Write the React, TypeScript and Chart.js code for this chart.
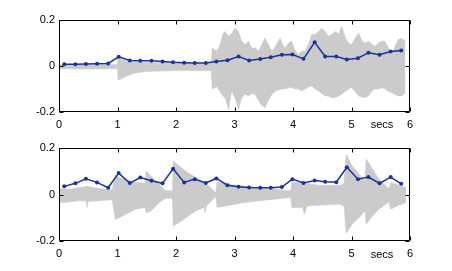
import React, { useEffect, useRef } from "react";
import { Chart, registerables } from "chart.js";

Chart.register(...registerables);

// Frame times (s) of the blue feature track
const frameTimes = [0.09, 0.28, 0.46, 0.65, 0.84, 1.02, 1.21, 1.39, 1.58, 1.77, 1.95, 2.14, 2.32, 2.51, 2.69, 2.88, 3.07, 3.25, 3.44, 3.62, 3.81, 3.99, 4.18, 4.37, 4.55, 4.74, 4.92, 5.11, 5.29, 5.48, 5.67, 5.85];

const topFeature = [0.008, 0.008, 0.009, 0.010, 0.011, 0.040, 0.024, 0.023, 0.023, 0.020, 0.016, 0.014, 0.013, 0.013, 0.020, 0.025, 0.041, 0.024, 0.030, 0.038, 0.049, 0.050, 0.031, 0.103, 0.041, 0.041, 0.028, 0.034, 0.058, 0.049, 0.063, 0.067];
const bottomFeature = [0.035, 0.048, 0.068, 0.052, 0.029, 0.092, 0.049, 0.073, 0.059, 0.048, 0.111, 0.052, 0.066, 0.050, 0.069, 0.040, 0.033, 0.030, 0.029, 0.029, 0.032, 0.066, 0.050, 0.060, 0.055, 0.053, 0.117, 0.066, 0.075, 0.048, 0.075, 0.046];

// Waveform envelopes (top signal)
const topWaveTimes = [0, 0.5, 1.0, 1.01, 1.05, 1.15, 1.3, 1.5, 2.0, 2.3, 2.6, 2.62, 2.7, 2.75, 2.8, 2.84, 2.9, 2.95, 3.01, 3.07, 3.12, 3.18, 3.24, 3.3, 3.35, 3.41, 3.46, 3.52, 3.58, 3.64, 3.7, 3.78, 3.83, 3.87, 3.92, 3.98, 4.03, 4.09, 4.15, 4.21, 4.27, 4.32, 4.38, 4.44, 4.49, 4.55, 4.6, 4.66, 4.72, 4.78, 4.83, 4.9, 4.95, 5.0, 5.06, 5.12, 5.18, 5.23, 5.29, 5.35, 5.4, 5.46, 5.52, 5.57, 5.63, 5.69, 5.75, 5.8, 5.86, 5.92];
const topWaveUpper = [0.006, 0.005, 0.006, 0.034, 0.03, 0.022, 0.018, 0.015, 0.014, 0.013, 0.013, 0.077, 0.065, 0.09, 0.14, 0.15, 0.13, 0.14, 0.165, 0.15, 0.11, 0.093, 0.108, 0.075, 0.08, 0.064, 0.09, 0.122, 0.095, 0.064, 0.085, 0.122, 0.09, 0.079, 0.1, 0.108, 0.07, 0.05, 0.065, 0.064, 0.1, 0.137, 0.137, 0.15, 0.165, 0.15, 0.13, 0.137, 0.15, 0.14, 0.173, 0.12, 0.1, 0.093, 0.12, 0.144, 0.11, 0.1, 0.108, 0.095, 0.086, 0.1, 0.108, 0.108, 0.08, 0.05, 0.09, 0.115, 0.12, 0.108];
const topWaveLower = [-0.012, -0.013, -0.012, -0.06, -0.058, -0.045, -0.03, -0.024, -0.02, -0.02, -0.02, -0.1, -0.09, -0.11, -0.13, -0.14, -0.19, -0.109, -0.14, -0.19, -0.14, -0.123, -0.13, -0.12, -0.123, -0.15, -0.17, -0.181, -0.15, -0.123, -0.11, -0.102, -0.1, -0.1, -0.095, -0.094, -0.1, -0.1, -0.109, -0.1, -0.09, -0.087, -0.1, -0.11, -0.12, -0.13, -0.13, -0.138, -0.138, -0.13, -0.123, -0.11, -0.1, -0.094, -0.11, -0.13, -0.135, -0.138, -0.13, -0.109, -0.1, -0.1, -0.094, -0.1, -0.11, -0.116, -0.125, -0.13, -0.13, -0.116];

// Waveform envelopes (bottom signal)
const bottomWaveTimes = [0, 0.17, 0.34, 0.46, 0.48, 0.5, 0.68, 0.91, 0.96, 1.03, 1.14, 1.31, 1.47, 1.49, 1.57, 1.71, 1.82, 1.94, 1.95, 2.05, 2.17, 2.34, 2.48, 2.5, 2.52, 2.68, 2.7, 2.85, 3.13, 3.42, 3.7, 3.96, 3.98, 4.16, 4.2, 4.24, 4.44, 4.79, 4.87, 4.91, 5.01, 5.13, 5.23, 5.25, 5.36, 5.47, 5.64, 5.67, 5.81, 5.93];
const bottomWaveUpper = [0.026, 0.023, 0.03, 0.034, 0.037, 0.034, 0.026, 0.02, 0.088, 0.073, 0.066, 0.052, 0.05, 0.102, 0.08, 0.045, 0.016, 0.016, 0.145, 0.124, 0.1, 0.073, 0.05, 0.048, 0.045, 0.009, 0.055, 0.045, 0.037, 0.03, 0.023, 0.016, 0.055, 0.049, 0.049, 0.047, 0.04, 0.04, 0.045, 0.174, 0.124, 0.088, 0.059, 0.153, 0.11, 0.066, 0.026, 0.052, 0.04, 0.03];
const bottomWaveLower = [-0.035, -0.032, -0.027, -0.027, -0.056, -0.03, -0.027, -0.023, -0.107, -0.1, -0.085, -0.063, -0.056, -0.078, -0.072, -0.035, -0.017, -0.017, -0.135, -0.121, -0.1, -0.07, -0.056, -0.078, -0.049, -0.009, -0.056, -0.049, -0.037, -0.027, -0.02, -0.013, -0.056, -0.056, -0.085, -0.049, -0.046, -0.042, -0.049, -0.167, -0.128, -0.1, -0.07, -0.128, -0.092, -0.063, -0.032, -0.063, -0.046, -0.035];

const xTickValues = [0, 1, 2, 3, 4, 5, 6];
const yTickValues = [-0.2, 0, 0.2];
const xAxisLabel = "secs";

const FONT = "'Liberation Sans', Arial, Helvetica, sans-serif";
const BLUE = "#1c3494";
const GRAY = "#cbcbcb";

const zip = (xs: number[], ys: number[]) => xs.map((x, i) => ({ x, y: ys[i] }));

const boxPlugin = {
  id: "matlabBox",
  afterDraw(chart: any, _args: any, opts: any) {
    const { ctx, chartArea } = chart;
    const { left, right, top, bottom } = chartArea;
    const xs = chart.scales.x;
    const ys = chart.scales.y;
    ctx.save();
    ctx.strokeStyle = "#000";
    ctx.lineWidth = 1;
    ctx.beginPath();
    const L = Math.round(left) + 0.5, R = Math.round(right) - 0.5;
    const T = Math.round(top) + 0.5, B = Math.round(bottom) - 0.5;
    ctx.rect(L, T, R - L, B - T);
    const tl = 4;
    xTickValues.forEach((v) => {
      const px = Math.round(xs.getPixelForValue(v)) + 0.5;
      ctx.moveTo(px, B); ctx.lineTo(px, B - tl);
      ctx.moveTo(px, T); ctx.lineTo(px, T + tl);
    });
    yTickValues.forEach((v) => {
      const py = Math.round(ys.getPixelForValue(v)) + 0.5;
      ctx.moveTo(L, py); ctx.lineTo(L + tl, py);
      ctx.moveTo(R, py); ctx.lineTo(R - tl, py);
    });
    ctx.stroke();
    ctx.fillStyle = "#000";
    ctx.font = `11px ${FONT}`;
    ctx.textAlign = "center";
    ctx.textBaseline = "middle";
    ctx.fillText(xAxisLabel, 382, bottom + (opts.labelDy || 13));
    ctx.restore();
  },
};

function Panel(props: { top: number; height: number; padTop: number; xHeight: number; labelDy: number; times: number[]; upper: number[]; lower: number[]; feature: number[] }) {
  const ref = useRef<HTMLCanvasElement | null>(null);
  useEffect(() => {
    if (!ref.current) return;
    const chart = new Chart(ref.current, {
      type: "line",
      data: {
        datasets: [
          {
            data: zip(frameTimes, props.feature),
            borderColor: BLUE,
            backgroundColor: BLUE,
            borderWidth: 1.5,
            pointRadius: 2,
            pointBorderWidth: 0,
            pointStyle: "circle",
            tension: 0,
            fill: false,
            order: 0,
          },
          {
            data: zip(props.times, props.upper),
            borderColor: GRAY,
            backgroundColor: GRAY,
            borderWidth: 0.5,
            pointRadius: 0,
            tension: 0,
            fill: "+1",
            order: 1,
          },
          {
            data: zip(props.times, props.lower),
            borderColor: GRAY,
            backgroundColor: GRAY,
            borderWidth: 0.5,
            pointRadius: 0,
            tension: 0,
            fill: false,
            order: 2,
          },
        ],
      },
      options: {
        animation: false,
        responsive: false,
        maintainAspectRatio: false,
        layout: { padding: { top: props.padTop, right: 42, left: 0, bottom: 0 } },
        plugins: {
          legend: { display: false },
          tooltip: { enabled: false },
          matlabBox: { labelDy: props.labelDy },
        } as any,
        scales: {
          x: {
            type: "linear",
            min: 0,
            max: 6,
            grid: { display: false, drawTicks: false },
            border: { display: false },
            afterBuildTicks: (s: any) => { s.ticks = xTickValues.map((v) => ({ value: v })); },
            afterFit: (s: any) => { s.height = props.xHeight; },
            ticks: {
              color: "#000",
              font: { family: FONT, size: 11 },
              padding: 6,
              maxRotation: 0,
              autoSkip: false,
              callback: (v: any) => String(v),
            },
          },
          y: {
            type: "linear",
            min: -0.2,
            max: 0.2,
            grid: { display: false, drawTicks: false },
            border: { display: false },
            afterBuildTicks: (s: any) => { s.ticks = yTickValues.map((v) => ({ value: v })); },
            afterFit: (s: any) => { s.width = 59; },
            ticks: {
              color: "#000",
              font: { family: FONT, size: 11 },
              padding: 4,
              callback: (v: any) => (Math.abs(v) < 1e-9 ? "0" : Number(v).toFixed(1)),
            },
          },
        },
      },
      plugins: [boxPlugin],
    });
    return () => chart.destroy();
  }, []);
  return (
    <canvas
      ref={ref}
      width={452}
      height={props.height}
      style={{ position: "absolute", left: 0, top: props.top, width: 452, height: props.height }}
    />
  );
}

export default function App() {
  return (
    <div style={{ position: "fixed", left: 0, top: 0, width: 452, height: 271, background: "#fff" }}>
      <Panel top={0} height={135} padTop={20} xHeight={23} labelDy={13} times={topWaveTimes} upper={topWaveUpper} lower={topWaveLower} feature={topFeature} />
      <Panel top={135} height={136} padTop={13} xHeight={30} labelDy={14} times={bottomWaveTimes} upper={bottomWaveUpper} lower={bottomWaveLower} feature={bottomFeature} />
    </div>
  );
}
